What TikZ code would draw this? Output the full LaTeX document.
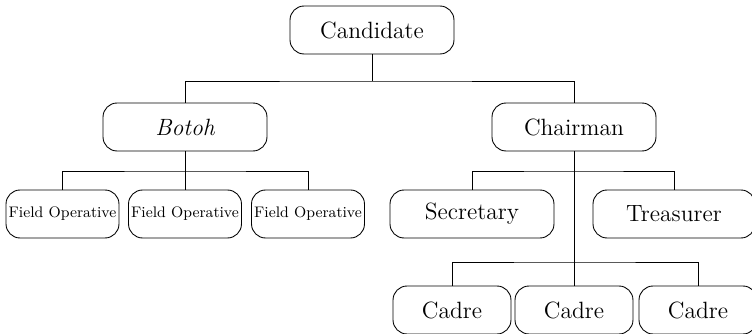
\documentclass[tikz,border=0pt]{standalone}
\usetikzlibrary{positioning, calc}

\begin{document}
\begin{tikzpicture}[
    x=0.02cm, y=-0.02cm,
    box/.style={draw, rounded corners=8pt, minimum width=3.28cm, minimum height=0.96cm, align=center, inner sep=1pt, line width=0.5pt, font=\fontsize{13.4}{15}\selectfont},
    fobox/.style={box, minimum width=2.26cm, font=\fontsize{8.7}{10}\selectfont},
    cbox/.style={box, minimum width=2.36cm},
    link/.style={line width=0.5pt}
]
\useasboundingbox (0,0) rectangle (752,334);
\node[box] (cand) at (372,30) {Candidate};
\node[box] (botoh) at (185,127) {\itshape Botoh};
\node[box] (chair) at (574,127) {Chairman};
\node[fobox] (fo1) at (62.5,214) {Field Operative};
\node[fobox] (fo2) at (185,214) {Field Operative};
\node[fobox] (fo3) at (308,214) {Field Operative};
\node[box] (sec) at (472,214) {Secretary};
\node[box, minimum width=3.24cm] (treas) at (674,214) {Treasurer};
\node[cbox] (cad1) at (452,310) {Cadre};
\node[cbox] (cad2) at (574,310) {Cadre};
\node[cbox] (cad3) at (698,310) {Cadre};

\coordinate (top) at (372,81);
\coordinate (fo) at (185,171);
\coordinate (staff) at (574,171);
\coordinate (cad) at (574,262);

\draw[link] (cand.south) -- (top);
\draw[link] (botoh.north) |- (top) -| (chair.north);
\draw[link] (botoh.south) -- (fo);
\draw[link] (fo1.north) |- (fo) -| (fo3.north);
\draw[link] (fo2.north) -- (fo);
\draw[link] (chair.south) -- (cad2.north);
\draw[link] (sec.north) |- (staff) -| (treas.north);
\draw[link] (cad1.north) |- (cad) -| (cad3.north);
\end{tikzpicture}
\end{document}
